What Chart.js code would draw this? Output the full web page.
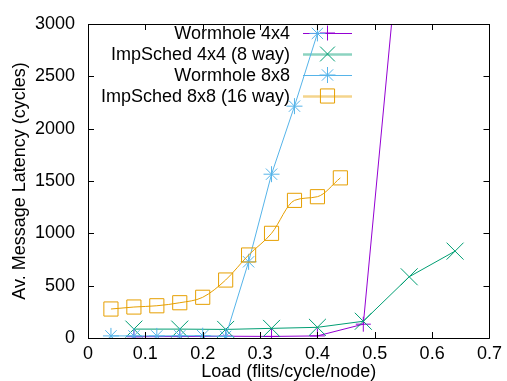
<!DOCTYPE html>
<html>
<head>
<meta charset="utf-8">
<script src="https://cdn.jsdelivr.net/npm/chart.js@4/dist/chart.umd.min.js"></script>
<style>
  html, body { margin: 0; padding: 0; background: #fff; }
  #wrap { width: 507px; height: 381px; }
</style>
</head>
<body>
<div id="wrap"><canvas id="c" width="507" height="381"></canvas></div>
<script>
// ---- data ----
const seriesNames = ["Wormhole 4x4", "ImpSched 4x4 (8 way)", "Wormhole 8x8", "ImpSched 8x8 (16 way)"];
const loadWormhole4 = [0.08, 0.16, 0.24, 0.32, 0.40, 0.48, 0.56];
const latWormhole4  = [12, 14, 17, 15, 20, 132, 4790];
const loadImpSched4 = [0.08, 0.16, 0.24, 0.32, 0.40, 0.48, 0.56, 0.64];
const latImpSched4  = [85, 85, 82, 92, 102, 160, 585, 830];
const loadWormhole8 = [0.04, 0.08, 0.12, 0.16, 0.20, 0.24, 0.28, 0.32, 0.36, 0.40];
const latWormhole8  = [20, 20, 20, 21, 22, 15, 728, 1565, 2215, 2910];
const loadImpSched8 = [0.04, 0.08, 0.12, 0.16, 0.20, 0.24, 0.28, 0.32, 0.36, 0.40, 0.44];
const latImpSched8  = [277, 296, 308, 337, 389, 554, 793, 1000, 1315, 1350, 1530];
const xTicks = [0, 0.1, 0.2, 0.3, 0.4, 0.5, 0.6, 0.7];
const yTicks = [0, 500, 1000, 1500, 2000, 2500, 3000];

const colors = ["#9400d3", "#009e73", "#56b4e9", "#e69f00"];
const keyLineColors = ["#9400d3", "rgba(0,158,115,0.45)", "#56b4e9", "rgba(230,159,0,0.45)"];
const keyLineWidths = [1, 2.5, 1, 2.5];
const styles = ["cross", "crossRot", "star", "rect"];
const radii  = [7.5, 12, 8, 10];
const keyRadii = [7.5, 10.5, 8, 10];

function pts(xs, ys) { return xs.map((x, i) => ({ x: x, y: ys[i] })); }

const FONT = "'Liberation Sans', Arial, sans-serif";

const frame = {
  id: 'frame',
  afterDatasetsDraw(chart) {
    const { ctx, chartArea: a, scales } = chart;
    ctx.save();
    ctx.strokeStyle = '#000';
    ctx.lineWidth = 1;
    ctx.beginPath();
    ctx.rect(Math.round(a.left) + 0.5, Math.round(a.top) + 0.5,
             Math.round(a.right - a.left), Math.round(a.bottom - a.top));
    ctx.stroke();
    const L = 6;
    ctx.beginPath();
    xTicks.forEach(v => {
      const px = Math.round(scales.x.getPixelForValue(v)) + 0.5;
      ctx.moveTo(px, a.bottom); ctx.lineTo(px, a.bottom - L);
      ctx.moveTo(px, a.top); ctx.lineTo(px, a.top + L);
    });
    yTicks.forEach(v => {
      const py = Math.round(scales.y.getPixelForValue(v)) + 0.5;
      ctx.moveTo(a.left, py); ctx.lineTo(a.left + L, py);
      ctx.moveTo(a.right, py); ctx.lineTo(a.right - L, py);
    });
    ctx.stroke();
    ctx.restore();
  }
};

const keyPlugin = {
  id: 'key',
  beforeDatasetsDraw(chart) {
    const { ctx } = chart;
    const textRight = 290, x0 = 303, x1 = 352, rowY = [33, 54, 75, 96];
    ctx.save();
    ctx.font = "18px " + FONT;
    ctx.textAlign = 'right';
    ctx.textBaseline = 'middle';
    seriesNames.forEach((name, i) => {
      const y = rowY[i];
      ctx.fillStyle = '#000';
      ctx.fillText(name, textRight, y + 1);
      ctx.strokeStyle = keyLineColors[i];
      ctx.lineWidth = keyLineWidths[i];
      ctx.beginPath();
      ctx.moveTo(x0, y + 0.5); ctx.lineTo(x1, y + 0.5);
      ctx.stroke();
      ctx.lineWidth = 1;
      ctx.strokeStyle = colors[i];
      ctx.fillStyle = 'rgba(0,0,0,0)';
      Chart.helpers.drawPoint(ctx, { pointStyle: styles[i], radius: keyRadii[i], rotation: 0, borderWidth: 1 },
        (x0 + x1) / 2, y);
    });
    ctx.restore();
  }
};

const datasets = [
  { label: seriesNames[0], data: pts(loadWormhole4, latWormhole4), order: 3 },
  { label: seriesNames[1], data: pts(loadImpSched4, latImpSched4), order: 2 },
  { label: seriesNames[2], data: pts(loadWormhole8, latWormhole8), order: 1 },
  { label: seriesNames[3], data: pts(loadImpSched8, latImpSched8), order: 0, cubicInterpolationMode: 'monotone' }
].map((d, i) => Object.assign({
  borderColor: colors[i],
  backgroundColor: 'rgba(0,0,0,0)',
  borderWidth: 1,
  pointStyle: styles[i],
  pointRadius: radii[i],
  pointBorderWidth: 1,
  pointBorderColor: colors[i],
  pointBackgroundColor: 'rgba(0,0,0,0)',
  fill: false,
  showLine: true
}, d));

new Chart(document.getElementById('c'), {
  type: 'scatter',
  data: { datasets },
  options: {
    responsive: false,
    animation: false,
    devicePixelRatio: 1,
    layout: { padding: { left: 0, top: 24, right: 17, bottom: 0 } },
    plugins: { legend: { display: false }, tooltip: { enabled: false } },
    scales: {
      x: {
        type: 'linear', min: 0, max: 0.7,
        afterBuildTicks: s => { s.ticks = xTicks.map(v => ({ value: v })); },
        afterFit: s => { s.height = 43; },
        grid: { display: false, drawTicks: false },
        border: { display: false },
        ticks: {
          padding: 5, color: '#000', maxRotation: 0, autoSkip: false,
          font: { family: FONT, size: 18 },
          callback: v => String(Number(v.toFixed(1)))
        },
        title: {
          display: true, text: 'Load (flits/cycle/node)', color: '#000',
          font: { family: FONT, size: 18, lineHeight: 1 }, padding: { top: 0, bottom: 0 }
        }
      },
      y: {
        type: 'linear', min: 0, max: 3000,
        afterBuildTicks: s => { s.ticks = yTicks.map(v => ({ value: v })); },
        afterFit: s => { s.width = 88; },
        grid: { display: false, drawTicks: false },
        border: { display: false },
        ticks: {
          padding: 13, color: '#000', autoSkip: false,
          font: { family: FONT, size: 18 },
          callback: v => String(v)
        },
        title: {
          display: true, text: 'Av. Message Latency (cycles)', color: '#000',
          font: { family: FONT, size: 18, lineHeight: 1 }, padding: { top: 11, bottom: 0 }
        }
      }
    }
  },
  plugins: [frame, keyPlugin]
});
</script>
</body>
</html>
